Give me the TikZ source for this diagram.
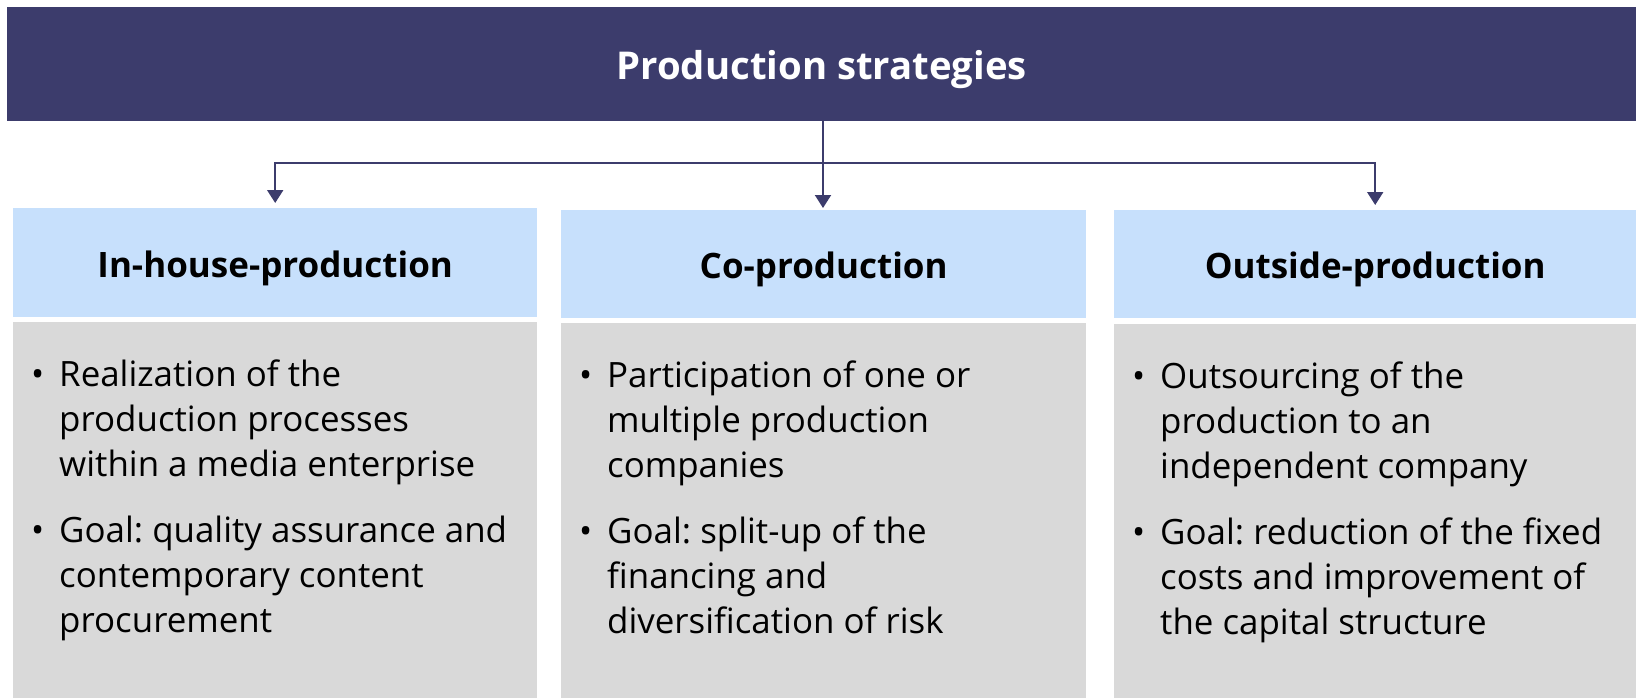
\documentclass[tikz,border=0pt]{standalone}
\usepackage{fontspec}
\setmainfont{Open Sans}
\usetikzlibrary{arrows.meta}
\definecolor{navy}{RGB}{60,60,108}
\definecolor{hdrblue}{RGB}{199,224,252}
\definecolor{bodygray}{RGB}{217,217,217}
\newcommand\bodyfont{\fontsize{34.9}{45}\selectfont\frenchspacing}
\newcommand\bl{\makebox[28pt][l]{\textbullet}}
\begin{document}
\begin{tikzpicture}[x=1pt,y=-1pt,
  titlebar/.style={fill=navy, inner sep=0pt, anchor=north west, text=white,
    text height=31pt, text depth=0pt,
    font=\bfseries\fontsize{38.3}{46}\selectfont},
  hdr/.style={fill=hdrblue, inner sep=0pt, anchor=north west,
    text height=29pt, text depth=0pt,
    font=\bfseries\fontsize{35}{42}\selectfont},
  bodybox/.style={fill=bodygray, inner sep=0pt, anchor=north west},
  bodytext/.style={inner sep=0pt, anchor=base west, align=left, font=\bodyfont},
  conn/.style={draw=navy, line width=2pt, -{Triangle[width=16pt,length=13pt]}},
  trunk/.style={draw=navy, line width=2pt}
]
\useasboundingbox (0,0) rectangle (1636,698);
\node[titlebar, minimum width=1629pt, minimum height=114pt] (bar) at (7,7) {Production strategies};

\node[hdr, minimum width=524pt, minimum height=109pt] (h1) at (13,208) {In-house-production};
\node[hdr, minimum width=525pt, minimum height=108pt] (h2) at (561,210) {Co-production};
\node[hdr, minimum width=522pt, minimum height=108pt] (h3) at (1114,210) {Outside-production};

\node[bodybox, minimum width=524pt, minimum height=376pt] (g1) at (13,322) {};
\node[bodybox, minimum width=525pt, minimum height=375pt] (g2) at (561,323) {};
\node[bodybox, minimum width=522pt, minimum height=374pt] (g3) at (1114,324) {};

\node[bodytext] (t1) at ([xshift=18pt,yshift=-64pt]g1.north west) {\begin{tabular}[t]{@{}l@{}l@{}}
\bl & Realization of the\\
 & production processes\\
 & within a media enterprise\\[21pt]
\bl & Goal: quality assurance and\\
 & contemporary content\\
 & procurement
\end{tabular}};
\node[bodytext] (t2) at ([xshift=18pt,yshift=-64pt]g2.north west) {\begin{tabular}[t]{@{}l@{}l@{}}
\bl & Participation of one or\\
 & multiple production\\
 & companies\\[21pt]
\bl & Goal: split-up of the\\
 & financing and\\
 & diversification of risk
\end{tabular}};
\node[bodytext] (t3) at ([xshift=18pt,yshift=-64pt]g3.north west) {\begin{tabular}[t]{@{}l@{}l@{}}
\bl & Outsourcing of the\\
 & production to an\\
 & independent company\\[21pt]
\bl & Goal: reduction of the fixed\\
 & costs and improvement of\\
 & the capital structure
\end{tabular}};

\coordinate (j) at (823,163);
\draw[trunk] (bar.south -| j) -- (j);
\draw[conn, shorten >=5pt] (j) -| (h1.north);
\draw[conn, shorten >=2pt] (j) -- (j |- h2.north);
\draw[conn, shorten >=5pt] (j) -| (h3.north);
\end{tikzpicture}
\end{document}
